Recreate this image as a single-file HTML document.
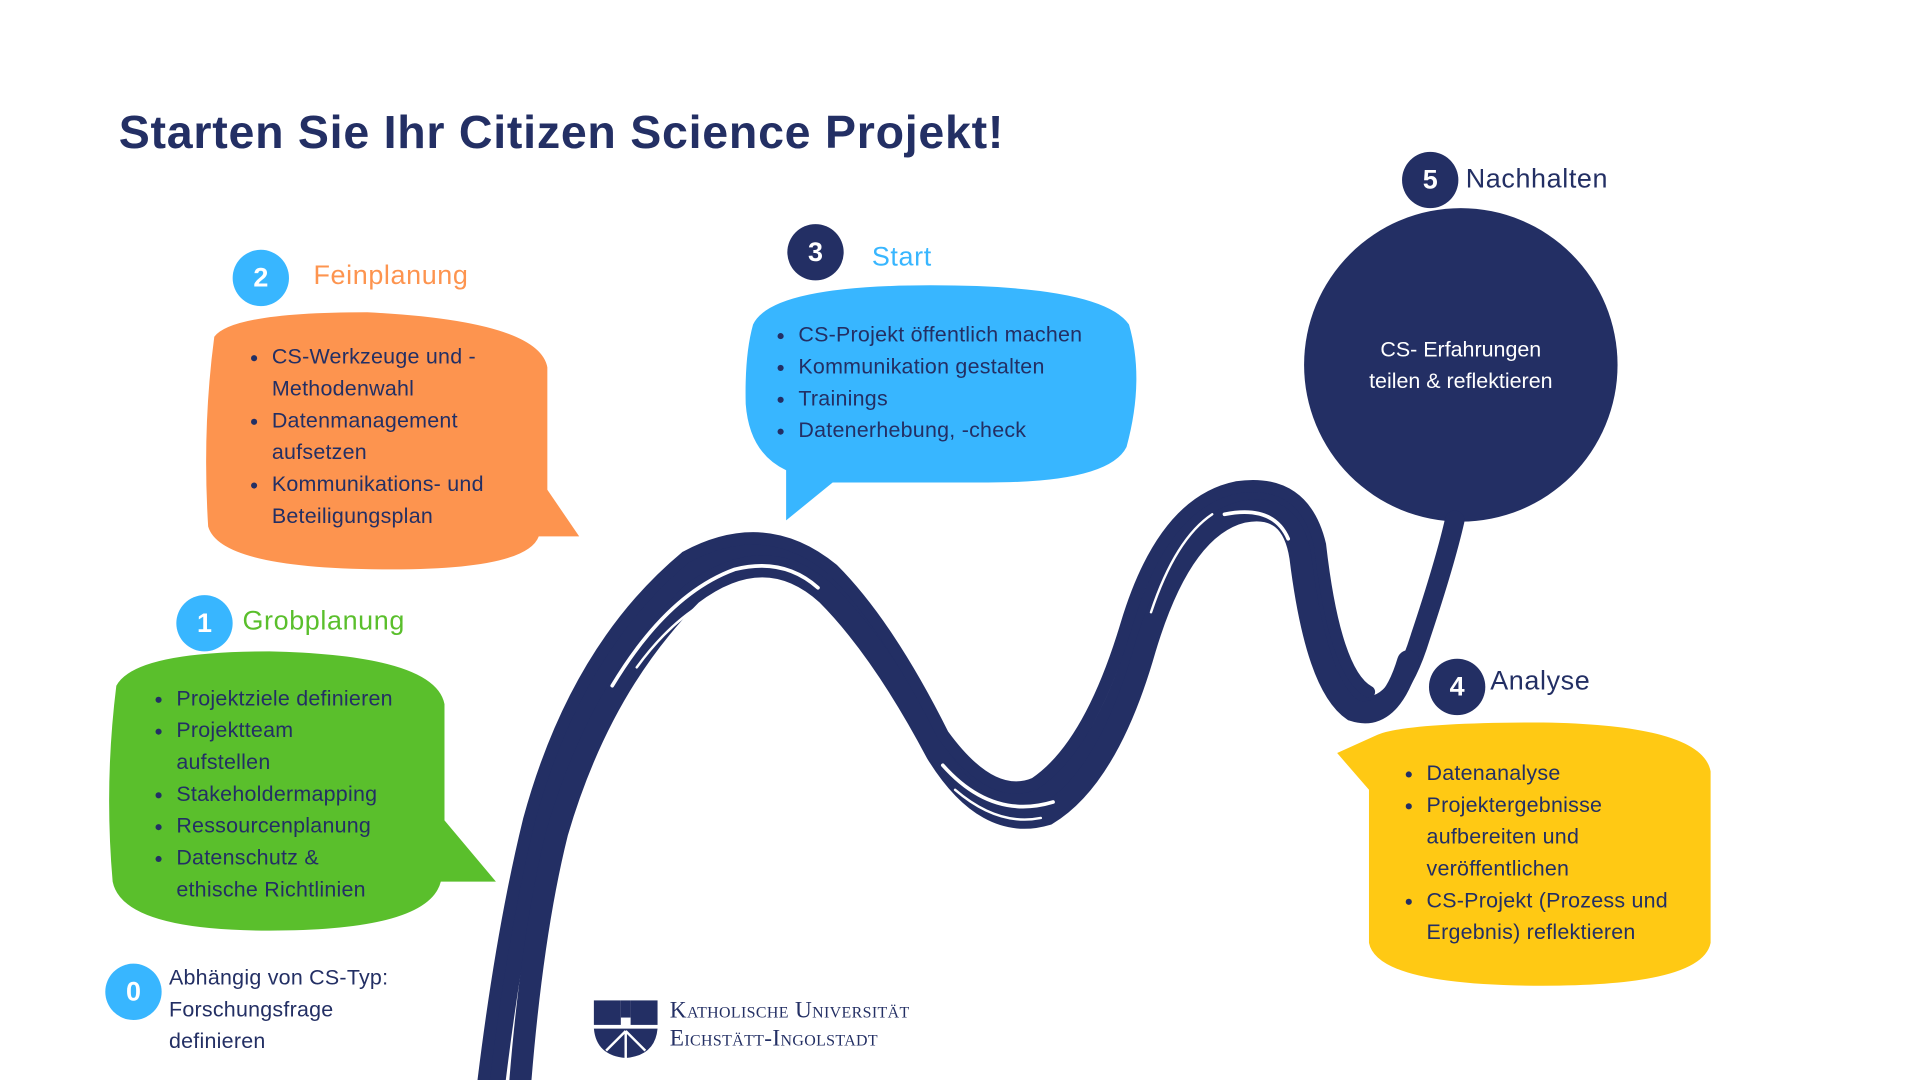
<!DOCTYPE html>
<html><head><meta charset="utf-8"><style>
html,body{margin:0;padding:0;background:#fff;overflow:hidden}
#c{position:absolute;left:0;top:0;width:1568px;height:882px;transform:scale(1.22449);transform-origin:0 0;font-family:"Liberation Sans",sans-serif;color:#232f64}
.t{position:absolute;white-space:nowrap}
.num{position:absolute;border-radius:50%;color:#fff;font-weight:bold;font-size:22px;text-align:center}
ul{margin:0;padding-left:22px}
li{font-size:17.5px;line-height:26px;letter-spacing:0.2px}
.bx{position:absolute}
</style></head><body><div id="c">
<svg width="1568" height="882" style="position:absolute;left:0;top:0">
 <path d="M175,275 Q190,255 300,255 Q440,262 447,300 L447,400 L473,438 L440,438 Q430,465 320,465 Q180,465 170,430 Q165,350 175,275Z" fill="#fd944f"/>
 <path d="M95,560 Q110,532 220,532 Q355,535 363,575 L363,670 L405,720 L360,720 Q350,760 220,760 Q100,760 92,720 Q85,640 95,560Z" fill="#5abf2c"/>
 <path d="M615,265 Q630,233 760,233 Q900,233 922,265 Q935,310 920,365 Q905,395 800,394 L680,394 L642,425 L642,384 Q612,370 609,330 Q608,290 615,265Z" fill="#38b6ff"/>
 <path d="M1125,600 Q1150,590 1260,590 Q1390,592 1397,630 L1397,770 Q1390,805 1260,805 Q1125,805 1118,770 L1118,645 L1092,615Z" fill="#ffc914"/>
 <circle cx="1193" cy="298" r="128" fill="#232f64"/>
 <g fill="none" stroke="#232f64" stroke-linecap="round">
  <path d="M405,882 Q420,760 440,680 Q480,540 560,470 Q620,430 670,470 Q720,520 760,600 Q800,665 850,650 Q900,620 930,520 Q960,420 1010,405 Q1060,395 1070,450 Q1085,560 1110,575 Q1140,585 1160,520 Q1180,460 1188,425" stroke-width="16"/>
  <path d="M425,882 Q435,760 455,680 Q490,560 565,485 Q625,440 675,485 Q720,530 765,615 Q805,680 855,665 Q905,635 935,530 Q965,430 1015,418 Q1055,410 1062,455 Q1075,560 1105,580 Q1135,590 1150,540" stroke-width="18"/>
  <path d="M395,882 Q410,760 432,670 Q470,530 560,455 Q625,420 680,465 Q725,510 770,600 Q810,655 845,640 Q890,610 920,510 Q950,410 1010,398 Q1065,390 1078,445 Q1090,550 1118,565" stroke-width="10"/>
 </g>
 <g fill="none" stroke="#fff" stroke-width="3" stroke-linecap="round">
  <path d="M500,560 Q545,485 600,465 Q640,455 668,480"/>
  <path d="M520,545 Q560,490 610,478" stroke-width="2"/>
  <path d="M770,625 Q810,670 860,655"/>
  <path d="M780,645 Q815,675 850,668" stroke-width="2"/>
  <path d="M1000,420 Q1040,412 1052,440"/>
  <path d="M940,500 Q960,440 990,420" stroke-width="2"/>
 </g>
 <rect x="485" y="817" width="22" height="20" fill="#232f64"/><rect x="515" y="817" width="22" height="20" fill="#232f64"/>
 <rect x="507" y="817" width="8" height="14" fill="#232f64"/>
 <path d="M485,840 L537,840 Q535,862 511,864 Q487,862 485,840Z" fill="#232f64"/>
 <path d="M511,842 L511,864 M511,842 L495,858 M511,842 L527,858" stroke="#fff" stroke-width="2"/>
</svg>
<div class="t" style="left:97px;top:88px;font-size:38px;font-weight:bold;letter-spacing:0.6px">Starten Sie Ihr Citizen Science Projekt!</div>

<div class="num" style="left:190px;top:204px;width:46px;height:46px;line-height:46px;background:#38b6ff">2</div>
<div class="t" style="left:256px;top:212px;font-size:22px;letter-spacing:0.5px;color:#fd944f">Feinplanung</div>
<div class="bx" style="left:200px;top:278px"><ul><li>CS-Werkzeuge und -<br>Methodenwahl</li><li>Datenmanagement<br>aufsetzen</li><li>Kommunikations- und<br>Beteiligungsplan</li></ul></div>

<div class="num" style="left:144px;top:486px;width:46px;height:46px;line-height:46px;background:#38b6ff">1</div>
<div class="t" style="left:198px;top:494px;font-size:22px;letter-spacing:0.5px;color:#5abf2c">Grobplanung</div>
<div class="bx" style="left:122px;top:557px"><ul><li>Projektziele definieren</li><li>Projektteam<br>aufstellen</li><li>Stakeholdermapping</li><li>Ressourcenplanung</li><li>Datenschutz &amp;<br>ethische Richtlinien</li></ul></div>

<div class="num" style="left:86px;top:787px;width:46px;height:46px;line-height:46px;background:#38b6ff">0</div>
<div class="bx" style="left:138px;top:785px;font-size:17.5px;line-height:26px;letter-spacing:0.2px">Abhängig von CS-Typ:<br>Forschungsfrage<br>definieren</div>

<div class="num" style="left:643px;top:183px;width:46px;height:46px;line-height:46px;background:#232f64">3</div>
<div class="t" style="left:712px;top:197px;font-size:22px;letter-spacing:0.5px;color:#38b6ff">Start</div>
<div class="bx" style="left:630px;top:260px"><ul><li>CS-Projekt öffentlich machen</li><li>Kommunikation gestalten</li><li>Trainings</li><li>Datenerhebung, -check</li></ul></div>

<div class="num" style="left:1145px;top:124px;width:46px;height:46px;line-height:46px;background:#232f64">5</div>
<div class="t" style="left:1197px;top:133px;font-size:22px;letter-spacing:0.5px">Nachhalten</div>
<div class="t" style="left:1065px;top:272px;width:256px;text-align:center;color:#fff;font-size:17.5px;line-height:26px;white-space:normal">CS- Erfahrungen<br>teilen &amp; reflektieren</div>

<div class="num" style="left:1167px;top:538px;width:46px;height:46px;line-height:46px;background:#232f64">4</div>
<div class="t" style="left:1217px;top:543px;font-size:22px;letter-spacing:0.5px">Analyse</div>
<div class="bx" style="left:1143px;top:618px"><ul><li>Datenanalyse</li><li>Projektergebnisse<br>aufbereiten und<br>veröffentlichen</li><li>CS-Projekt (Prozess und<br>Ergebnis) reflektieren</li></ul></div>

<div class="t" style="left:547px;top:814px;font-family:'Liberation Serif',serif;font-size:19px;line-height:23px;font-variant:small-caps;letter-spacing:0.3px">Katholische Universität<br>Eichstätt-Ingolstadt</div>
</div></body></html>
